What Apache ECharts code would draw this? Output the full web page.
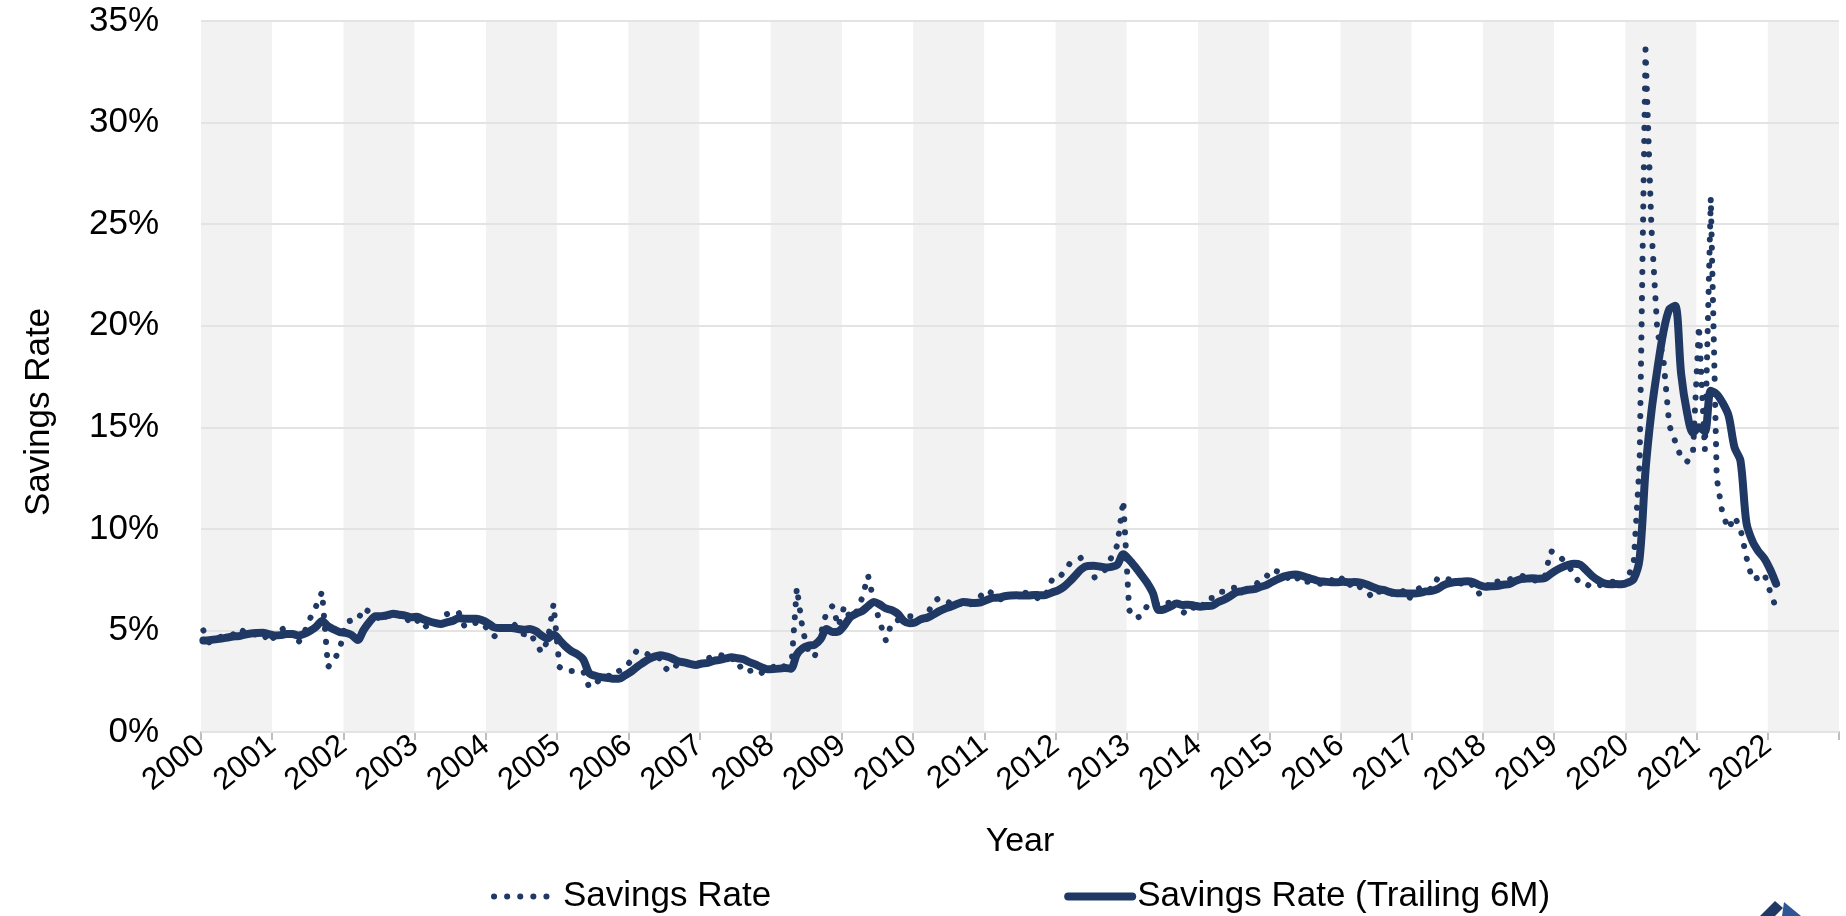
<!DOCTYPE html>
<html>
<head>
<meta charset="utf-8">
<title>Savings Rate</title>
<script src="https://cdn.jsdelivr.net/npm/echarts@6/dist/echarts.min.js"></script>
<style>
  html, body { margin: 0; padding: 0; background: #fff; }
  #main { width: 1846px; height: 916px; }
</style>
</head>
<body>
<div id="main"></div>
<script>
// monthly values, Jan 2000 .. Feb 2022 (one row per year)
var firstYear = 2000;
var lastYear = 2023;

var savingsRate = [
  5.0, 4.4, 4.5, 4.7, 4.8, 4.8, 5.1, 4.9, 4.8, 4.8, 4.9, 4.4,
  4.7, 5.0, 5.2, 4.8, 4.4, 4.9, 5.6, 6.2, 6.9, 3.2, 3.5, 4.1,
  5.4, 5.5, 5.5, 6.1, 5.9, 5.8, 5.4, 5.8, 5.9, 5.8, 5.7, 5.3,
  5.5, 5.1, 5.3, 5.3, 5.4, 5.8, 5.9, 5.9, 5.2, 5.2, 5.4, 5.4,
  5.0, 4.7, 5.0, 5.2, 5.4, 5.1, 4.8, 4.9, 4.4, 3.9, 4.5, 6.3,
  3.2, 3.0, 3.0, 3.0, 3.0, 2.2, 2.4, 2.6, 2.8, 2.7, 3.0, 3.15,
  3.5, 4.0, 4.0, 3.8, 3.8, 3.6, 3.1, 3.4, 3.2, 3.5, 3.3, 3.3,
  3.5, 3.6, 3.8, 3.8, 3.7, 3.7, 3.15, 3.3, 3.0, 3.1, 2.9, 3.1,
  3.2, 3.4, 3.2, 2.9, 7.1, 5.0, 3.9, 3.7, 4.8, 5.9, 6.2, 5.2,
  6.2, 5.6, 5.9, 6.6, 7.7, 6.4, 5.4, 4.5, 5.4, 5.5, 5.6, 5.7,
  5.7, 5.5, 5.8, 6.4, 6.6, 6.5, 6.3, 6.2, 6.4, 6.2, 6.5, 6.7,
  7.0, 6.8, 6.5, 6.6, 6.7, 6.8, 6.9, 6.8, 6.7, 6.5, 6.8, 7.5,
  7.5, 7.9, 8.3, 8.4, 8.6, 8.3, 7.6, 7.7, 8.0, 8.6, 9.2, 11.4,
  6.0, 5.6, 5.7, 6.2, 6.1, 6.4, 6.3, 6.4, 6.5, 5.8, 6.2, 6.1,
  6.0, 6.6, 6.6, 6.9, 6.9, 7.1, 7.1, 7.0, 7.0, 7.1, 7.5, 7.6,
  8.0, 7.9, 7.8, 7.5, 7.7, 7.3, 7.4, 7.4, 7.3, 7.3, 7.5, 7.3,
  7.6, 7.2, 7.4, 7.1, 6.95, 6.6, 6.9, 6.9, 6.8, 6.8, 7.0, 6.5,
  6.9, 7.1, 7.2, 7.0, 7.6, 7.6, 7.5, 7.4, 7.3, 7.1, 7.3, 6.8,
  7.0, 7.5, 7.4, 7.5, 7.5, 7.6, 7.7, 7.6, 7.5, 7.4, 7.6, 8.9,
  8.8, 8.5, 8.2, 7.7, 7.3, 7.3, 7.1, 7.2, 7.3, 7.4, 7.4, 7.2,
  7.6, 8.3, 13.2, 33.6, 24.8, 19.7, 18.4, 15.1, 14.3, 13.5, 13.3, 13.8,
  20.0, 13.9, 26.3, 12.5, 10.7, 10.0, 10.6, 10.0, 8.6, 7.5, 7.6, 7.8,
  6.9, 6.1
];

var trailing6M = [
  4.50, 4.52, 4.56, 4.60, 4.65, 4.70, 4.72, 4.80, 4.85, 4.87, 4.88, 4.82,
  4.75, 4.77, 4.83, 4.83, 4.75, 4.83, 4.98, 5.18, 5.47, 5.20, 5.05, 4.92,
  4.88, 4.77, 4.53, 5.02, 5.42, 5.70, 5.70, 5.75, 5.82, 5.77, 5.73, 5.65,
  5.67, 5.55, 5.45, 5.37, 5.32, 5.40, 5.47, 5.60, 5.58, 5.57, 5.57, 5.50,
  5.35, 5.15, 5.12, 5.12, 5.12, 5.07, 5.03, 5.07, 4.97, 4.75, 4.60, 4.80,
  4.53, 4.22, 3.98, 3.83, 3.58, 2.90, 2.77, 2.70, 2.67, 2.62, 2.62, 2.78,
  2.96, 3.19, 3.39, 3.58, 3.71, 3.78, 3.72, 3.62, 3.48, 3.43, 3.35, 3.30,
  3.37, 3.40, 3.50, 3.55, 3.62, 3.68, 3.63, 3.58, 3.44, 3.33, 3.19, 3.09,
  3.10, 3.12, 3.15, 3.12, 3.82, 4.13, 4.25, 4.30, 4.57, 5.07, 4.92, 4.95,
  5.25, 5.65, 5.83, 5.95, 6.20, 6.40, 6.27, 6.08, 6.00, 5.82, 5.47, 5.35,
  5.40, 5.57, 5.63, 5.78, 5.95, 6.08, 6.18, 6.30, 6.40, 6.37, 6.35, 6.38,
  6.50, 6.60, 6.62, 6.68, 6.72, 6.73, 6.72, 6.72, 6.75, 6.73, 6.75, 6.87,
  6.97, 7.15, 7.42, 7.73, 8.03, 8.17, 8.18, 8.15, 8.10, 8.13, 8.23, 8.75,
  8.48, 8.13, 7.75, 7.35, 6.83, 6.00, 6.05, 6.18, 6.32, 6.25, 6.27, 6.22,
  6.17, 6.20, 6.22, 6.40, 6.52, 6.68, 6.87, 6.93, 7.00, 7.03, 7.13, 7.22,
  7.37, 7.52, 7.65, 7.72, 7.75, 7.70, 7.60, 7.52, 7.43, 7.40, 7.37, 7.37,
  7.40, 7.37, 7.38, 7.35, 7.26, 7.14, 7.03, 6.98, 6.88, 6.83, 6.83, 6.82,
  6.82, 6.85, 6.92, 6.95, 7.05, 7.23, 7.33, 7.38, 7.40, 7.42, 7.37, 7.23,
  7.15, 7.17, 7.18, 7.25, 7.28, 7.42, 7.53, 7.55, 7.57, 7.55, 7.57, 7.78,
  7.97, 8.12, 8.23, 8.28, 8.23, 7.97, 7.68, 7.47, 7.32, 7.27, 7.28, 7.27,
  7.35, 7.53, 8.52, 12.88, 15.78, 17.87, 19.67, 20.80, 20.98, 17.63, 15.72, 14.73,
  15.00, 14.80, 16.80, 16.63, 16.20, 15.57, 14.00, 13.35, 10.30, 9.40, 8.90, 8.55,
  8.00, 7.30
];

var navy = '#1f3864';
var font = 'Liberation Sans, Arial, sans-serif';

// month i sits a little after the start of its month on the year axis
function toPoints(values) {
  return values.map(function (v, i) {
    return [firstYear + (i + 0.4) / 12, v];
  });
}

var myChart = echarts.init(document.getElementById('main'));
var option = {
  animation: false,
  textStyle: { fontFamily: font },
  grid: { left: 201, right: 7, top: 21, bottom: 184 },
  legend: {
    left: 486,
    top: 874,
    itemGap: 293,
    itemWidth: 64,
    itemHeight: 14,
    itemStyle: { opacity: 0 },
    lineStyle: { width: 'inherit' },
    textStyle: { fontSize: 35, color: '#000', fontFamily: font },
    data: ['Savings Rate', 'Savings Rate (Trailing 6M)']
  },
  xAxis: {
    type: 'value',
    min: firstYear,
    max: lastYear,
    interval: 1,
    z: 0,
    name: 'Year',
    nameLocation: 'middle',
    nameGap: 93,
    nameTextStyle: { fontSize: 34, color: '#000', fontFamily: font },
    axisLine: { show: true, lineStyle: { color: '#bfbfbf', width: 2 } },
    axisTick: { show: true, length: 8, lineStyle: { color: '#bfbfbf', width: 2 } },
    splitLine: { show: false },
    splitArea: { show: true, areaStyle: { color: ['#f2f2f2', '#ffffff'] } },
    axisLabel: {
      rotate: 38,
      margin: 10,
      fontSize: 31,
      color: '#000',
      fontFamily: font,
      formatter: function (v) { return v >= lastYear ? '' : String(v); }
    }
  },
  yAxis: {
    type: 'value',
    min: 0,
    max: 35,
    interval: 5,
    z: 1,
    axisLine: { show: false },
    axisTick: { show: false },
    splitLine: { lineStyle: { color: '#e3e3e3', width: 2 } },
    axisLabel: { formatter: '{value}%', fontSize: 35, color: '#000', margin: 42, fontFamily: font }
  },
  graphic: [
    {
      type: 'text',
      x: 39, y: 412,
      rotation: Math.PI / 2,
      style: { text: 'Savings Rate', fontSize: 35, fill: '#000', fontFamily: font, align: 'center', verticalAlign: 'middle' }
    },
    {
      type: 'polygon',
      shape: { points: [[1760, 916], [1775, 901], [1783, 908], [1775, 916]] },
      style: { fill: navy }
    },
    {
      type: 'polygon',
      shape: { points: [[1782, 916], [1784, 902], [1801, 916]] },
      style: { fill: '#2f5597' }
    }
  ],
  series: [
    {
      name: 'Savings Rate',
      type: 'line',
      data: toPoints(savingsRate),
      symbol: 'none',
      showSymbol: false,
      z: 2,
      itemStyle: { color: navy },
      lineStyle: { color: navy, width: 6, type: [0.1, 13], cap: 'round' }
    },
    {
      name: 'Savings Rate (Trailing 6M)',
      type: 'line',
      data: toPoints(trailing6M),
      symbol: 'none',
      showSymbol: false,
      smooth: 0.3,
      z: 3,
      itemStyle: { color: navy },
      lineStyle: { color: navy, width: 8, cap: 'round', join: 'round' }
    }
  ]
};
myChart.setOption(option);
</script>
</body>
</html>
